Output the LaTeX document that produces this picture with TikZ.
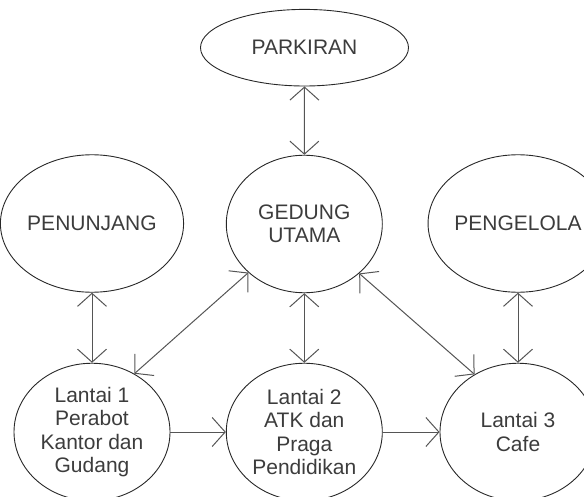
\documentclass[tikz,border=0pt]{standalone}
\usepackage{fontspec}
\setmainfont{Liberation Sans}
\usetikzlibrary{shapes.geometric,arrows.meta}
\definecolor{edgec}{RGB}{85,85,85}
\definecolor{shapec}{RGB}{40,40,40}
\definecolor{textc}{RGB}{60,60,60}
\begin{document}
\begin{tikzpicture}[x=1pt,y=-1pt,
  place/.style={ellipse, draw=shapec, line width=0.9pt, minimum width=156pt, minimum height=137.5pt, inner sep=0pt, align=center, text=textc, font=\fontsize{21}{23.5}\selectfont},
  link/.style={draw=edgec, line width=1pt, {Straight Barb[length=13pt,width=29pt]}-{Straight Barb[length=13pt,width=29pt]}},
  flow/.style={draw=edgec, line width=1pt, -{Straight Barb[length=13pt,width=29pt]}}]
\useasboundingbox (0,0) rectangle (584,497);
\node[place, minimum width=208pt, minimum height=76.6pt] (park) at (304.5,47.7) {PARKIRAN};
\node[place] (ged) at (304.3,224) {GEDUNG\\UTAMA};
\node[place] (pen) at (92,223.5) {PENUNJANG};
\node[place] (peng) at (518,223.5) {PENGELOLA};
\node[place] (l1) at (92,432) {Lantai 1\\Perabot\\Kantor dan\\Gudang};
\node[place] (l2) at (304.3,432) {Lantai 2\\ATK dan\\Praga\\Pendidikan};
\node[place] (l3) at (518,432) {Lantai 3\\Cafe};
\draw[link] (park) -- (ged);
\draw[link] (pen) -- (l1);
\draw[link] (ged) -- (l2);
\draw[link] (peng) -- (l3);
\draw[link] (l1.54) -- (ged.221.5);
\draw[link] (l3.127) -- (ged.318.5);
\draw[flow] (l1) -- (l2);
\draw[flow] (l2) -- (l3);
\end{tikzpicture}
\end{document}
